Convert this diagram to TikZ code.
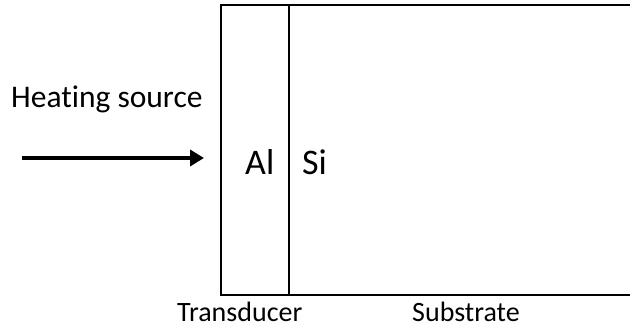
\documentclass[tikz,border=0pt]{standalone}
\usepackage{fontspec}
\setmainfont[Ligatures=NoCommon]{Carlito}
\usetikzlibrary{arrows.meta}
\begin{document}
\begin{tikzpicture}[x=1pt,y=-1pt,
  lbl/.style={inner sep=0pt,anchor=base west,font=\fontsize{28}{32}\selectfont},
  hlbl/.style={inner sep=0pt,anchor=base west,font=\fontsize{31.5}{35}\selectfont},
  big/.style={inner sep=0pt,anchor=base west,font=\fontsize{36}{42}\selectfont},
  wall/.style={line width=2pt,black},
  heat/.style={line width=4pt,-{Triangle[length=14pt,width=16pt]}}]
\useasboundingbox (0,0) rectangle (630,329);
\coordinate (tl) at (221,5);
\coordinate (tr) at (632,5);
\coordinate (bl) at (221,294.5);
\coordinate (br) at (632,294.5);
\coordinate (dt) at (289,5);
\coordinate (db) at (289,294.5);
\draw[wall,line join=miter] (tr) -- (tl) -- (bl) -- (br);
\draw[line width=1.6pt] (dt) -- (db);
\node[hlbl] (hs) at (11,107.5) {Heating source};
\coordinate (a0) at (22,158);
\coordinate (a1) at (204,158);
\draw[heat] (a0) -- (a1);
\node[big] (al) at (245,175) {Al};
\node[big] (si) at (302,175) {Si};
\node[lbl] (td) at (177,321) {Transducer};
\node[lbl] (sb) at (412,321) {Substrate};
\end{tikzpicture}
\end{document}
